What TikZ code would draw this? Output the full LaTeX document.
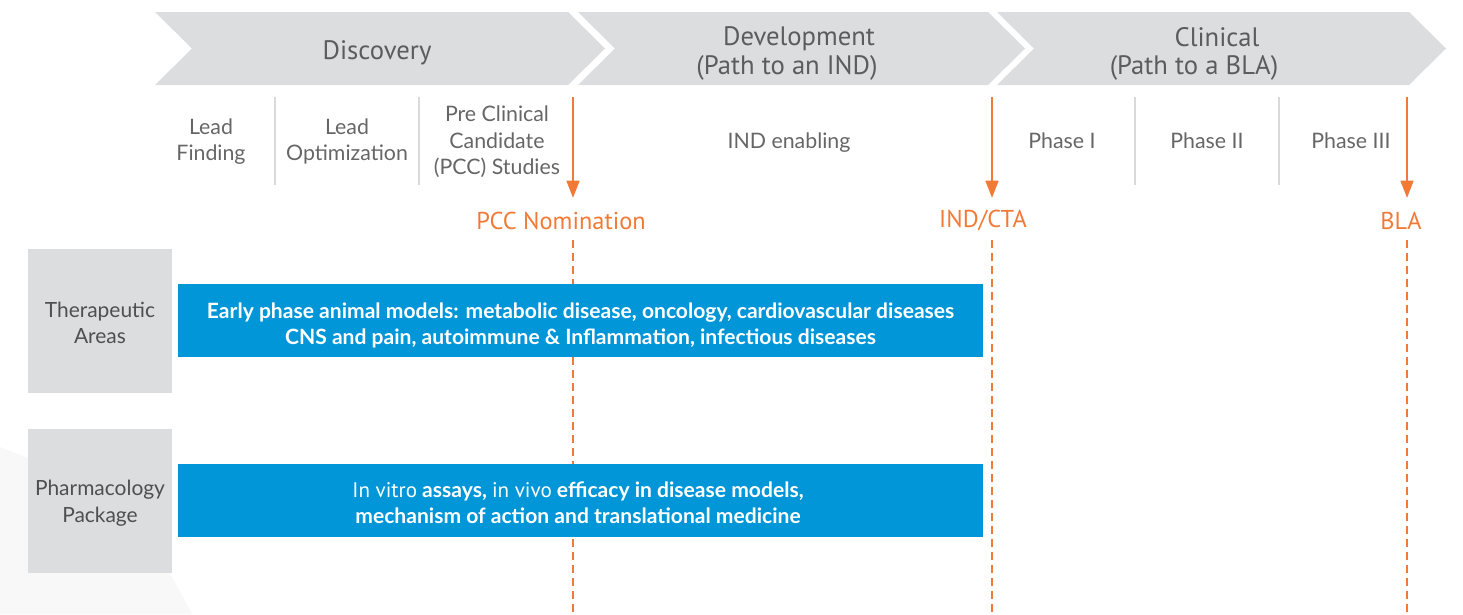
\documentclass[tikz,border=0pt]{standalone}
\usepackage{fontspec}
\setmainfont{Lato}
\newfontfamily\myr{PT Sans}
\usetikzlibrary{arrows.meta}
\definecolor{chev}{HTML}{DCDDDF}
\definecolor{hdrtext}{HTML}{5C5C5C}
\definecolor{subtext}{HTML}{666666}
\definecolor{sepline}{HTML}{DADADA}
\definecolor{orng}{HTML}{F07A36}
\definecolor{blu}{HTML}{0096D8}
\definecolor{boxgray}{HTML}{DCDDDF}
\definecolor{boxtext}{HTML}{4F4F4F}
\definecolor{bgshape}{HTML}{F8F8F8}
\begin{document}
\begin{tikzpicture}[x=0.75pt,y=-0.75pt,
  hdr/.style={font=\myr\fontsize{20}{24}\selectfont, text=hdrtext, inner sep=0pt},
  subph/.style={font=\fontsize{16}{20}\selectfont, text=subtext, align=center, inner sep=0pt},
  sepl/.style={draw=sepline, line width=0.8pt},
  milestone/.style={draw=orng, line width=1.9pt, -{Triangle[width=9.5pt,length=13pt]}},
  mlabel/.style={font=\myr\fontsize{18.3}{21}\selectfont, text=orng, inner sep=0pt},
  dline/.style={draw=orng, line width=1.8pt, dash pattern=on 6pt off 3.75pt},
  graybox/.style={fill=boxgray, minimum width=108pt, minimum height=108pt, inner sep=0pt},
  graytext/.style={font=\fontsize{15.7}{20}\selectfont, text=boxtext, align=center, inner sep=0pt},
  bluebox/.style={fill=blu, minimum width=603.75pt, minimum height=54.75pt, inner sep=0pt},
  bluetext/.style={font=\bfseries\fontsize{15.8}{19.5}\selectfont, text=white, align=center, inner sep=0pt}
]
\useasboundingbox (0,0) rectangle (1463,614);
% faint background shape
\fill[bgshape] (0,447) -- (130,498) -- (192,614) -- (0,614) -- cycle;
% chevrons
\fill[chev] (155,12) -- (568,12) -- (605,48.5) -- (568,85) -- (155,85) -- (192,48.5) -- cycle;
\fill[chev] (578,12) -- (988,12) -- (1025,48.5) -- (988,85) -- (578,85) -- (615,48.5) -- cycle;
\fill[chev] (997,12) -- (1409,12) -- (1446,48.5) -- (1409,85) -- (997,85) -- (1034,48.5) -- cycle;
\node[hdr] (disc) at (377,53) {Discovery};
\node[hdr] (dev1) at (799,39) {Development};
\node[hdr] (dev2) at (787,68) {(Path to an IND)};
\node[hdr] (cli1) at (1217,37) {Clinical};
\node[hdr] (cli2) at (1194,68) {(Path to a BLA)};
% sub-phases
\node[subph] (lf) at (211,141.5) {Lead\\Finding};
\node[subph] (lo) at (347,141.5) {Lead\\Optimization};
\node[subph] (pcc) at (497,142) {Pre Clinical\\Candidate\\(PCC) Studies};
\node[subph] (ind) at (789,143) {IND enabling};
\node[subph] (p1) at (1062,141) {Phase I};
\node[subph] (p2) at (1207,141) {Phase II};
\node[subph] (p3) at (1351,141) {Phase III};
% separators
\coordinate (s1a) at (275,97); \coordinate (s1b) at (275,185);
\coordinate (s2a) at (419,97); \coordinate (s2b) at (419,185);
\coordinate (s3a) at (1135,97); \coordinate (s3b) at (1135,185);
\coordinate (s4a) at (1279,97); \coordinate (s4b) at (1279,185);
\draw[sepl] (s1a) -- (s1b);
\draw[sepl] (s2a) -- (s2b);
\draw[sepl] (s3a) -- (s3b);
\draw[sepl] (s4a) -- (s4b);
% milestones
\coordinate (m1a) at (573,97); \coordinate (m1b) at (573,198);
\coordinate (m2a) at (992,97); \coordinate (m2b) at (992,198);
\coordinate (m3a) at (1407,97); \coordinate (m3b) at (1407,198);
\draw[milestone] (m1a) -- (m1b);
\draw[milestone] (m2a) -- (m2b);
\draw[milestone] (m3a) -- (m3b);
\node[mlabel] (pccn) at (561,221) {PCC Nomination};
\node[mlabel] (indcta) at (983,221) {IND/CTA};
\node[mlabel] (bla) at (1401,221) {BLA};
% dashed lines
\coordinate (d1a) at (573,240); \coordinate (d1b) at (573,614);
\coordinate (d2a) at (992,240); \coordinate (d2b) at (992,614);
\coordinate (d3a) at (1407,240); \coordinate (d3b) at (1407,614);
\draw[dline] (d1a) -- (d1b);
\draw[dline] (d2a) -- (d2b);
\draw[dline] (d3a) -- (d3b);
% left boxes
\node[graybox] (ta) at (100,321) {};
\node[graytext] (tat) at (100,323) {Therapeutic\\Areas};
\node[graybox] (pp) at (100,501) {};
\node[graytext] (ppt) at (100,503.5) {Pharmacology\\Package};
% blue boxes
\node[bluebox] (b1) at (580.5,320.5) {};
\node[bluetext] (b1t) at (580.5,325) {Early phase animal models: metabolic disease, oncology, cardiovascular diseases\\CNS and pain, autoimmune \& Inflammation, infectious diseases};
\node[bluebox] (b2) at (580.5,500.5) {};
\node[bluetext] (b2t) at (578,502.5) {{\mdseries\myr In vitro} assays, {\mdseries\myr in vivo} efficacy in disease models,\\mechanism of action and translational medicine};
\end{tikzpicture}
\end{document}
